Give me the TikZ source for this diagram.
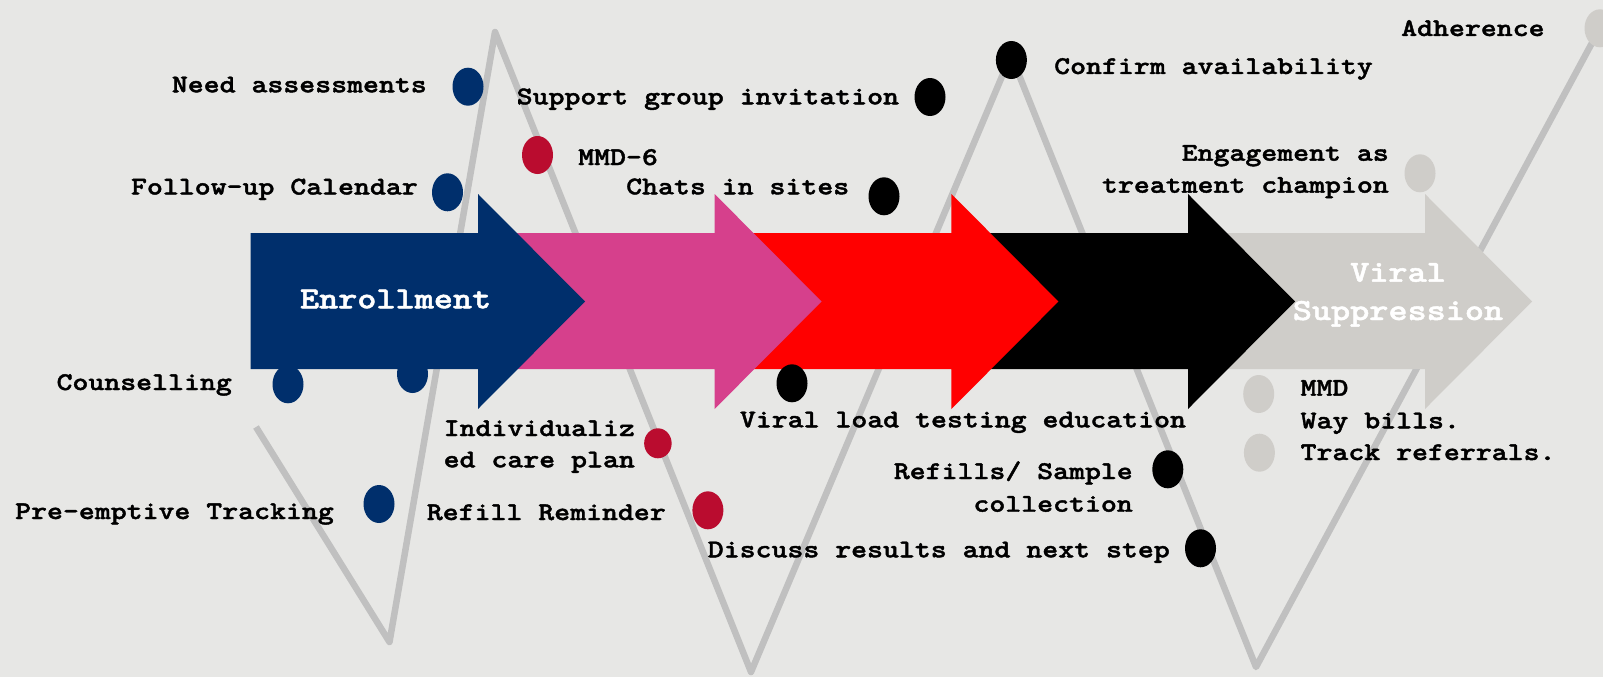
\documentclass[tikz,border=0pt]{standalone}
\usepackage{fontspec}
% slab-serif typewriter face, widened to the advance of a Courier-style font
\newfontfamily\cour{lmmonolt10-bold.otf}[FakeStretch=1.19,FakeBold=1.6]
\usetikzlibrary{shapes.geometric}
\definecolor{bgc}{HTML}{E7E7E5}
\definecolor{navy}{HTML}{002F6C}
\definecolor{rose}{HTML}{D6408C}
\definecolor{brightred}{HTML}{FF0000}
\definecolor{stone}{HTML}{CFCDC9}
\definecolor{crimson}{HTML}{BA0C2F}
\definecolor{zigc}{HTML}{C0C0C0}
% one stage chevron: body from #1 to the head base #2, filled with #3
\newcommand\stagearrow[3]{%
  \fill[#3] (#1,233) -- (#2,233) -- (#2,194) -- ({#2+107},301.5) -- (#2,409)
    -- (#2,369) -- (#1,369) -- cycle;}
\begin{document}
\begin{tikzpicture}[x=1pt,y=-1pt,
  lbl/.style={font=\cour\fontsize{25.5}{32}\selectfont, inner sep=0pt, text=black},
  stage/.style={font=\cour\fontsize{30.6}{38}\selectfont, inner sep=0pt, text=white},
  dot/.style={ellipse, inner sep=0pt, minimum width=31pt, minimum height=38pt},
  smalldot/.style={dot, minimum width=27.5pt, minimum height=30pt},
  zig/.style={draw=zigc, line width=6.5pt, line join=round}]

\fill[bgc] (0,0) rectangle (1603,677);
\useasboundingbox (0,0) rectangle (1603,677);

% zigzag timeline behind everything
\coordinate (z0) at (256,427);
\coordinate (z1) at (389.5,642);
\coordinate (z2) at (495,32);
\coordinate (z3) at (751,672);
\coordinate (z4) at (1011,55);
\coordinate (z5) at (1256,667);
\coordinate (z6) at (1600,28);
\draw[zig] (z0) -- (z1) -- (z2) -- (z3) -- (z4) -- (z5) -- (z6);

% stage chevrons, drawn right to left so each tip overlaps the next
\stagearrow{1188}{1425}{stone}
\stagearrow{951.4}{1188}{black}
\stagearrow{714.6}{951.4}{brightred}
\stagearrow{478}{714.6}{rose}
\stagearrow{250.5}{478}{navy}

\node[stage, anchor=base] (enroll) at (395.6,308.3) {Enrollment};
\node[stage, anchor=base] (viral1) at (1398,281.7) {Viral};
\node[stage, anchor=base] (viral2) at (1398,320) {Suppression};

% milestone dots
\node[dot, fill=navy] (dneed) at (468,86.7) {};
\node[dot, fill=navy] (dfollow) at (447.5,192.3) {};
\node[dot, fill=navy] (dcouns) at (288,384.3) {};
\node[dot, fill=navy] (dcouns2) at (412.5,374) {};
\node[dot, fill=navy] (dpre) at (379,504) {};
\node[dot, fill=crimson] (dmmd6) at (537.5,155) {};
\node[smalldot, fill=crimson] (dindiv) at (657.9,443.3) {};
\node[dot, fill=crimson] (drefill) at (707.9,510.3) {};
\node[dot, fill=black] (dsupport) at (930,97) {};
\node[dot, fill=black] (dchats) at (884,196.3) {};
\node[dot, fill=black] (dconfirm) at (1011.4,60) {};
\node[dot, fill=black] (dviral) at (792,383.3) {};
\node[dot, fill=black] (drefills) at (1167.8,469.3) {};
\node[dot, fill=black] (ddiscuss) at (1200.5,548.3) {};
\node[dot, fill=stone] (dadh) at (1600,28.3) {};
\node[dot, fill=stone] (dengage) at (1420,173.3) {};
\node[dot, fill=stone] (dmmd) at (1258.7,394) {};
\node[dot, fill=stone] (dtrack) at (1259.4,452.7) {};

% milestone labels
\node[lbl, anchor=base east] (tneed) at (427,92.3) {Need assessments};
\node[lbl, anchor=base east] (tfollow) at (418,194.5) {Follow-up Calendar};
\node[lbl, anchor=base east] (tcouns) at (232,390) {Counselling};
\node[lbl, anchor=base east] (tpre) at (334,519) {Pre-emptive Tracking};
\node[lbl, anchor=base west] (tindiv1) at (443.5,436) {Individualiz};
\node[lbl, anchor=base west] (tindiv2) at (443.5,467.3) {ed care plan};
\node[lbl, anchor=base east] (trefill) at (666,520) {Refill Reminder};
\node[lbl, anchor=base west] (tmmd6) at (578,165) {MMD-6};
\node[lbl, anchor=base west] (tsupport) at (516.5,104.3) {Support group invitation};
\node[lbl, anchor=base west] (tchats) at (626,194.3) {Chats in sites};
\node[lbl, anchor=base west] (tconfirm) at (1054,74) {Confirm availability};
\node[lbl, anchor=base west] (tadh) at (1401,36) {Adherence};
\node[lbl, anchor=base east] (tengage1) at (1389,160.7) {Engagement as};
\node[lbl, anchor=base east] (tengage2) at (1389,192.7) {treatment champion};
\node[lbl, anchor=base west] (tviral) at (739.7,427.3) {Viral load testing education};
\node[lbl, anchor=base east] (trefills1) at (1133,479) {Refills/ Sample};
\node[lbl, anchor=base east] (trefills2) at (1133,511.7) {collection};
\node[lbl, anchor=base west] (tdiscuss) at (707.6,557.3) {Discuss results and next step};
\node[lbl, anchor=base west] (tmmd) at (1300.4,395.7) {MMD};
\node[lbl, anchor=base west] (tway) at (1300.4,428.3) {Way bills.};
\node[lbl, anchor=base west] (ttrack) at (1300.4,460) {Track referrals.};
\end{tikzpicture}
\end{document}
